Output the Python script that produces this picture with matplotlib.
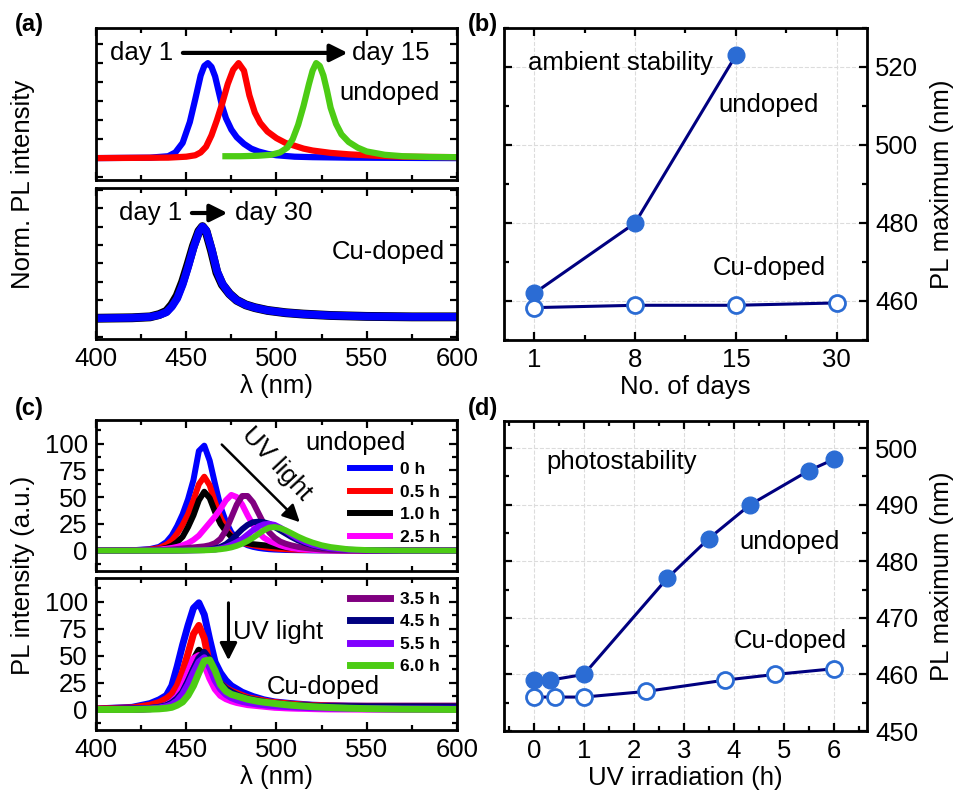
import matplotlib
matplotlib.use("Agg")
import matplotlib.pyplot as plt
from matplotlib.ticker import MultipleLocator, NullFormatter

plt.rcParams['font.family'] = ['Liberation Sans', 'DejaVu Sans']
plt.rcParams['font.size'] = 18.5

# ---- panel (a): normalized PL spectra, ambient storage ----
a_blue_wl = [400, 430, 440, 444, 448, 452, 455, 458, 460, 462, 464, 466, 468, 470, 472, 475, 478, 482, 486, 490, 495, 500, 510, 520, 540, 600]
a_blue = [0, 0.005, 0.02, 0.06, 0.16, 0.38, 0.62, 0.87, 0.97, 1.0, 0.96, 0.86, 0.70, 0.54, 0.42, 0.30, 0.22, 0.15, 0.10, 0.07, 0.045, 0.03, 0.015, 0.01, 0.005, 0]
a_red_wl = [400, 440, 450, 455, 458, 461, 464, 467, 470, 473, 476, 479, 482, 485, 488, 491, 495, 500, 505, 510, 515, 520, 530, 540, 555, 570, 600]
a_red = [0, 0.005, 0.015, 0.03, 0.06, 0.12, 0.24, 0.40, 0.58, 0.78, 0.93, 1.0, 0.92, 0.66, 0.48, 0.37, 0.28, 0.21, 0.16, 0.13, 0.10, 0.08, 0.055, 0.04, 0.025, 0.015, 0.01]
a_green_wl = [470, 480, 490, 497, 502, 506, 509, 512, 515, 518, 520, 522, 524, 526, 528, 530, 533, 536, 540, 545, 550, 560, 570, 585, 600]
a_green = [0.02, 0.02, 0.025, 0.035, 0.06, 0.11, 0.2, 0.35, 0.55, 0.78, 0.92, 1.0, 0.97, 0.87, 0.71, 0.53, 0.36, 0.25, 0.17, 0.11, 0.07, 0.035, 0.02, 0.012, 0.01]
a_cu_wl = [400, 420, 430, 435, 439, 442, 445, 448, 451, 454, 457, 459, 461, 464, 467, 470, 474, 478, 483, 488, 495, 505, 515, 530, 550, 575, 600]
a_cu_day1 = [0.005, 0.01, 0.02, 0.045, 0.08, 0.15, 0.25, 0.40, 0.59, 0.79, 0.95, 1.0, 0.95, 0.74, 0.50, 0.37, 0.27, 0.20, 0.15, 0.12, 0.09, 0.065, 0.05, 0.035, 0.025, 0.02, 0.02]
a_cu_day30 = [0.005, 0.01, 0.02, 0.04, 0.07, 0.13, 0.22, 0.37, 0.56, 0.77, 0.94, 1.0, 0.96, 0.76, 0.52, 0.38, 0.27, 0.20, 0.15, 0.12, 0.09, 0.065, 0.05, 0.035, 0.025, 0.02, 0.02]

# ---- panel (b): PL maximum vs days ----
days = ["1", "8", "15", "30"]
b_undoped = [462, 480, 523]
b_cu = [458.3, 458.9, 458.9, 459.5]

# ---- panel (c): PL spectra under UV ----
c_wl = [400, 420, 430, 435, 439, 442, 445, 448, 451, 454, 457, 460, 463, 466, 469, 472, 475, 478, 481,
        484, 487, 490, 493, 496, 499, 502, 505, 508, 512, 516, 520, 525, 530, 540, 550, 570, 600]
uv_labels = ["0 h", "0.5 h", "1.0 h", "2.5 h", "3.5 h", "4.5 h", "5.5 h", "6.0 h"]
uv_colors = ["#0000ff", "#ff0000", "#000000", "#ff00ff", "#800080", "#000080", "#8000ff", "#4ccc14"]

c_und = [
    [0, 0.3, 1.5, 3.5, 8, 14, 23, 34, 48, 66, 93, 98, 84, 62, 41, 27, 17, 11, 7.5, 5, 3.5, 2.5, 1.8, 1.3, 1, 0.8, 0.6, 0.5, 0.4, 0.3, 0.2, 0.2, 0.1, 0.1, 0, 0, 0],
    [0, 0.2, 1, 2.5, 5.5, 9.5, 16, 24, 34, 47, 62, 69, 61, 45, 31, 21, 14, 10, 7.5, 6, 5, 4, 3.2, 2.5, 2, 1.6, 1.3, 1, 0.8, 0.6, 0.5, 0.4, 0.3, 0.2, 0.1, 0, 0],
    [0, 0.1, 0.5, 1.2, 2.5, 4.5, 8, 13, 22, 33, 47, 55, 49, 36, 25, 18, 13, 10, 8, 7, 6, 5.5, 5, 4.5, 4, 3.5, 3, 2.5, 2, 1.5, 1, 0.8, 0.5, 0.3, 0.2, 0, 0],
    [0, 0.2, 0.5, 1, 1.8, 2.5, 3.5, 5, 7, 10, 14, 20, 26, 32, 39, 47, 52, 50, 43, 33, 24, 17, 12, 9, 7, 5, 3.5, 2.5, 1.5, 1, 0.6, 0.3, 0.2, 0.1, 0, 0, 0],
    [0, 0, 0.2, 0.4, 0.7, 1, 1.5, 2, 2.5, 3, 3.5, 4, 5, 7, 11, 19, 31, 43, 51, 51, 45, 35, 25, 17, 12, 8.5, 6.5, 5, 3.5, 2.5, 1.8, 1, 0.6, 0.2, 0.1, 0, 0],
    [0, 0, 0, 0, 0, 0, 0.1, 0.2, 0.3, 0.4, 0.5, 0.5, 1, 2, 3.5, 6, 10, 15, 20, 24, 26.5, 27, 26.5, 25, 22, 19, 16, 13, 9.5, 7, 5, 3, 2, 0.8, 0.3, 0, 0],
    [0, 0, 0, 0, 0, 0, 0, 0.1, 0.2, 0.3, 0.4, 0.6, 0.8, 1, 2, 3.5, 5.5, 8, 11, 15, 19, 22.5, 24.5, 25, 24, 21.5, 18.5, 15, 11, 8, 5.5, 3.5, 2, 0.7, 0.3, 0, 0],
    [0, 0, 0, 0, 0, 0, 0, 0, 0.1, 0.2, 0.2, 0.3, 0.5, 0.8, 1.3, 2, 3, 4.5, 6.5, 9, 12, 15.5, 19, 21.5, 22, 21, 19, 16.5, 13, 10, 7.5, 5, 3.3, 1.2, 0.5, 0.1, 0],
]
c_cu = [
    [0.5, 2, 5.5, 9, 13, 22, 40, 60, 78, 94, 99, 88, 65, 44, 34, 27, 22, 19, 16, 14, 12, 10.5, 9, 8, 7, 6.5, 6, 5.5, 5, 4.5, 4, 3.7, 3.5, 3.2, 3, 3, 3],
    [0.5, 1.5, 4, 6.5, 10, 14, 22, 35, 52, 70, 78, 66, 41, 30, 24, 20, 17, 15, 13, 11, 10, 9, 8, 7, 6.5, 6, 5.5, 5, 4.5, 4, 3.7, 3.5, 3.3, 3, 3, 3, 3],
    [0, 0.3, 1, 2, 4, 7, 12, 20, 33, 46, 55, 50, 35, 24, 18, 14, 11.5, 10, 9, 8, 7, 6.3, 5.7, 5.2, 4.8, 4.4, 4, 3.7, 3.4, 3.1, 2.9, 2.7, 2.5, 2.3, 2.2, 2.1, 2],
    [0, 0.3, 1, 2, 4, 7, 12, 21, 34, 47, 50, 42, 29, 19, 13, 10, 8, 6.5, 5.5, 4.5, 4, 3.5, 3, 2.5, 2, 1.8, 1.5, 1.3, 1.1, 1, 0.8, 0.6, 0.5, 0.4, 0.3, 0.2, 0],
    [0, 0.3, 0.8, 1.6, 3, 5, 9, 15, 25, 37, 48, 52, 42, 29, 21, 16, 13, 11, 9.5, 8.5, 7.5, 6.7, 6, 5.4, 5, 4.6, 4.2, 3.9, 3.5, 3.2, 3, 2.8, 2.6, 2.4, 2.3, 2.2, 2],
    [0, 0.5, 1, 2, 3.5, 6, 10, 16, 26, 37, 47, 53, 46, 31, 24, 19, 16, 13.5, 11.5, 10, 9, 8, 7, 6, 5.5, 5, 4.5, 4, 3.7, 3.3, 3, 2.8, 2.6, 2.5, 2.5, 2.5, 2.5],
    [0, 0.2, 0.7, 1.4, 2.7, 4.5, 8, 14, 23, 34, 44, 48, 39, 27, 19, 14, 11, 9, 7.5, 6.5, 5.7, 5, 4.4, 3.9, 3.5, 3.1, 2.8, 2.5, 2.2, 1.9, 1.7, 1.5, 1.3, 1, 0.8, 0.5, 0.3],
    [0, 0, 0.3, 0.6, 1.2, 2, 4, 7, 13, 22, 34, 45, 46, 36, 23, 17, 14, 12.5, 11, 9.5, 8.5, 7.5, 6.8, 6.2, 5.6, 5, 4.5, 4, 3.5, 3, 2.6, 2.2, 1.8, 1.2, 0.8, 0.3, 0],
]

# ---- panel (d): PL maximum vs UV time ----
d_und_t = [0, 0.33, 1, 2.67, 3.5, 4.33, 5.5, 6]
d_und = [459, 459, 460, 477, 484, 490, 496, 498]
d_cu_t = [0, 0.42, 1, 2.25, 3.83, 4.83, 6]
d_cu = [456, 456, 456, 457, 459, 460, 461]

NAVY = "#000080"
MARK = "#2b6cd4"

fig = plt.figure(figsize=(9.56, 7.97), dpi=100)
ax_a1 = fig.add_axes([0.1004, 0.7742, 0.3776, 0.1907])
ax_a2 = fig.add_axes([0.1004, 0.5747, 0.3776, 0.1895])
ax_b = fig.add_axes([0.5272, 0.5734, 0.3797, 0.3915])
ax_c1 = fig.add_axes([0.1004, 0.2836, 0.3776, 0.1895])
ax_c2 = fig.add_axes([0.1004, 0.0841, 0.3776, 0.1907])
ax_d = fig.add_axes([0.5272, 0.0828, 0.3797, 0.3890])


def style(ax):
    for s in ax.spines.values():
        s.set_linewidth(2)
    ax.tick_params(which='both', direction='in', top=True, right=True, width=1.6)
    ax.tick_params(which='major', length=6, pad=6)
    ax.tick_params(which='minor', length=3.5)


for ax in [ax_a1, ax_a2, ax_c1, ax_c2]:
    style(ax)
    ax.set_xlim(400, 600)
    ax.xaxis.set_major_locator(MultipleLocator(50))
    ax.xaxis.set_minor_locator(MultipleLocator(25))

# (a)
ax_a1.plot(a_blue_wl, a_blue, color="#0000ff", lw=4.5, solid_capstyle='butt')
ax_a1.plot(a_red_wl, a_red, color="#ff0000", lw=4.5, solid_capstyle='butt')
ax_a1.plot(a_green_wl, a_green, color="#4ccc14", lw=4.5, solid_capstyle='butt')
ax_a1.set_ylim(-0.23, 1.37)
ax_a2.plot(a_cu_wl, a_cu_day1, color="black", lw=6.4)
ax_a2.plot(a_cu_wl, a_cu_day30, color="#0000ff", lw=5.6)
ax_a2.set_ylim(-0.22, 1.42)
for ax in [ax_a1, ax_a2]:
    ax.yaxis.set_major_locator(MultipleLocator(0.2))
    ax.yaxis.set_major_formatter(NullFormatter())
    ax.tick_params(axis='y', which='major', length=5)
ax_a1.xaxis.set_major_formatter(NullFormatter())
ax_a2.set_xlabel("λ (nm)", labelpad=2)

ax_a1.text(0.039, 0.836, "day 1", transform=ax_a1.transAxes, va='center', ha='left')
ax_a1.annotate('', xy=(0.705, 0.836), xytext=(0.233, 0.836), xycoords='axes fraction',
               arrowprops=dict(arrowstyle='-|>', color='k', lw=3, mutation_scale=26))
ax_a1.text(0.709, 0.836, "day 15", transform=ax_a1.transAxes, va='center', ha='left')
ax_a1.text(0.953, 0.572, "undoped", transform=ax_a1.transAxes, va='center', ha='right')
ax_a2.text(0.064, 0.834, "day 1", transform=ax_a2.transAxes, va='center', ha='left')
ax_a2.annotate('', xy=(0.372, 0.834), xytext=(0.258, 0.834), xycoords='axes fraction',
               arrowprops=dict(arrowstyle='-|>', color='k', lw=3, mutation_scale=26))
ax_a2.text(0.385, 0.834, "day 30", transform=ax_a2.transAxes, va='center', ha='left')
ax_a2.text(0.967, 0.578, "Cu-doped", transform=ax_a2.transAxes, va='center', ha='right')

# (c)
lines_top = []
lines_bot = []
for i in range(len(uv_labels)):
    l1, = ax_c1.plot(c_wl, c_und[i], color=uv_colors[i], lw=4.3, label=uv_labels[i])
    l2, = ax_c2.plot(c_wl, c_cu[i], color=uv_colors[i], lw=5, label=uv_labels[i])
    lines_top.append(l1)
    lines_bot.append(l2)
for ax in [ax_c1, ax_c2]:
    ax.set_ylim(-19, 122)
    ax.yaxis.set_major_locator(MultipleLocator(25))
    ax.yaxis.set_minor_locator(MultipleLocator(12.5))
ax_c1.xaxis.set_major_formatter(NullFormatter())
ax_c2.set_xlabel("λ (nm)", labelpad=2)

leg_font = {'weight': 'bold', 'size': 12.5}
ax_c1.legend(handles=lines_top[:4], loc='upper left', bbox_to_anchor=(0.703, 0.72), frameon=False,
             prop=leg_font, handlelength=2.3, handletextpad=0.6, labelspacing=0.42,
             borderpad=0, borderaxespad=0)
ax_c2.legend(handles=lines_bot[4:], loc='upper left', bbox_to_anchor=(0.703, 0.91), frameon=False,
             prop=leg_font, handlelength=2.3, handletextpad=0.6, labelspacing=0.42,
             borderpad=0, borderaxespad=0)

ax_c1.text(0.579, 0.85, "undoped", transform=ax_c1.transAxes, va='center', ha='left')
ax_c1.text(0.50, 0.71, "UV light", transform=ax_c1.transAxes, va='center', ha='center', rotation=-47)
ax_c1.annotate('', xy=(0.57, 0.31), xytext=(0.343, 0.85), xycoords='axes fraction',
               arrowprops=dict(arrowstyle='-|>', color='k', lw=1.8, mutation_scale=26))
ax_c2.text(0.38, 0.647, "UV light", transform=ax_c2.transAxes, va='center', ha='left')
ax_c2.annotate('', xy=(0.367, 0.44), xytext=(0.367, 0.855), xycoords='axes fraction',
               arrowprops=dict(arrowstyle='-|>', color='k', lw=2.2, mutation_scale=26))
ax_c2.text(0.473, 0.285, "Cu-doped", transform=ax_c2.transAxes, va='center', ha='left')

# (b) and (d)
for ax in [ax_b, ax_d]:
    style(ax)
    ax.yaxis.tick_right()
    ax.yaxis.set_label_position('right')
    ax.tick_params(axis='y', which='both', left=True, right=True, labelleft=False, labelright=True)
    ax.grid(True, ls='--', color='#dcdcdc', lw=0.8)
    ax.set_axisbelow(True)
    ax.set_ylabel("PL maximum (nm)", labelpad=8)

xb = list(range(len(days)))
ax_b.plot(xb[:len(b_undoped)], b_undoped, '-o', color=NAVY, lw=2.2, ms=12,
          markerfacecolor=MARK, markeredgecolor=MARK)
ax_b.plot(xb, b_cu, '-o', color=NAVY, lw=2.2, ms=11.5,
          markerfacecolor='white', markeredgecolor=MARK, markeredgewidth=2)
ax_b.set_xticks(xb)
ax_b.set_xticklabels(days)
ax_b.xaxis.set_minor_locator(MultipleLocator(0.5))
ax_b.set_xlim(-0.3, 3.3)
ax_b.set_ylim(450, 530)
ax_b.yaxis.set_major_locator(MultipleLocator(20))
ax_b.yaxis.set_minor_locator(MultipleLocator(10))
ax_b.set_xlabel("No. of days", labelpad=2)
ax_b.text(0.066, 0.888, "ambient stability", transform=ax_b.transAxes, va='center', ha='left')
ax_b.text(0.59, 0.753, "undoped", transform=ax_b.transAxes, va='center', ha='left')
ax_b.text(0.576, 0.23, "Cu-doped", transform=ax_b.transAxes, va='center', ha='left')

ax_d.plot(d_und_t, d_und, '-o', color=NAVY, lw=2.2, ms=12,
          markerfacecolor=MARK, markeredgecolor=MARK)
ax_d.plot(d_cu_t, d_cu, '-o', color=NAVY, lw=2.2, ms=11.5,
          markerfacecolor='white', markeredgecolor=MARK, markeredgewidth=2)
ax_d.set_xlim(-0.6, 6.67)
ax_d.set_ylim(450, 504.8)
ax_d.xaxis.set_major_locator(MultipleLocator(1))
ax_d.xaxis.set_minor_locator(MultipleLocator(0.5))
ax_d.yaxis.set_major_locator(MultipleLocator(10))
ax_d.yaxis.set_minor_locator(MultipleLocator(5))
ax_d.set_xlabel("UV irradiation (h)", labelpad=2)
ax_d.text(0.116, 0.869, "photostability", transform=ax_d.transAxes, va='center', ha='left')
ax_d.text(0.648, 0.611, "undoped", transform=ax_d.transAxes, va='center', ha='left')
ax_d.text(0.632, 0.291, "Cu-doped", transform=ax_d.transAxes, va='center', ha='left')

# shared y labels and panel letters
fig.text(0.024, 1 - 184 / 797, "Norm. PL intensity", rotation=90, va='center', ha='center')
fig.text(0.024, 1 - 575 / 797, "PL intensity (a.u.)", rotation=90, va='center', ha='center')
for lab, x, y in [("(a)", 15, 25), ("(b)", 468, 25), ("(c)", 15, 408), ("(d)", 468, 408)]:
    fig.text(x / 956, 1 - y / 797, lab, fontweight='bold', fontsize=17, va='center', ha='left')

fig.savefig("out.png", dpi=100)
